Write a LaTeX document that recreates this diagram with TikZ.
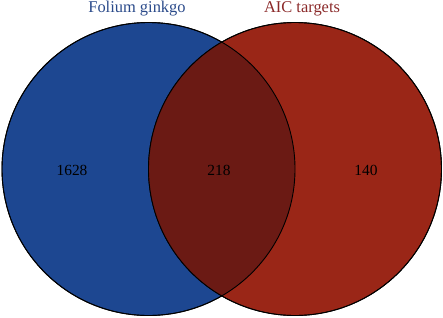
\documentclass[tikz,border=0pt]{standalone}
\usepackage{fontspec}
\setmainfont{Liberation Serif}
\definecolor{ginkgoblue}{HTML}{1D4791}
\definecolor{aicred}{HTML}{9A2617}
\definecolor{overlapred}{HTML}{6B1A14}
\definecolor{ginkgotext}{HTML}{2A4A8A}
\definecolor{aictext}{HTML}{8B2A2A}
\begin{document}
\begin{tikzpicture}[x=1bp,y=-1bp,font=\fontsize{16.5}{19}\selectfont]
    \tikzset{
        setcircle/.style={circle,draw=black,line width=0.9bp,minimum size=293bp,inner sep=0pt},
        countlabel/.style={text=black,font=\fontsize{15.5}{18}\selectfont}
    }
    \useasboundingbox (0,0) rectangle (443,317);

    \node[setcircle,fill=ginkgoblue] (ginkgo) at (148.5,169) {};
    \node[setcircle,fill=aicred] (aic) at (295,169) {};
    \begin{scope}
        \clip (148.5,169) circle (146.5);
        \fill[overlapred] (295,169) circle (146.5);
    \end{scope}
    \draw[line width=0.9bp] (148.5,169) circle (146.5);
    \draw[line width=0.9bp] (295,169) circle (146.5);

    \node[text=ginkgotext] (ginkgolabel) at (137,9) {Folium ginkgo};
    \node[text=aictext] (aiclabel) at (302,9) {AIC targets};

    \node[countlabel] (onlyginkgo) at (72,170) {1628};
    \node[countlabel] (both) at (219,170) {218};
    \node[countlabel] (onlyaic) at (366,170) {140};
\end{tikzpicture}
\end{document}
